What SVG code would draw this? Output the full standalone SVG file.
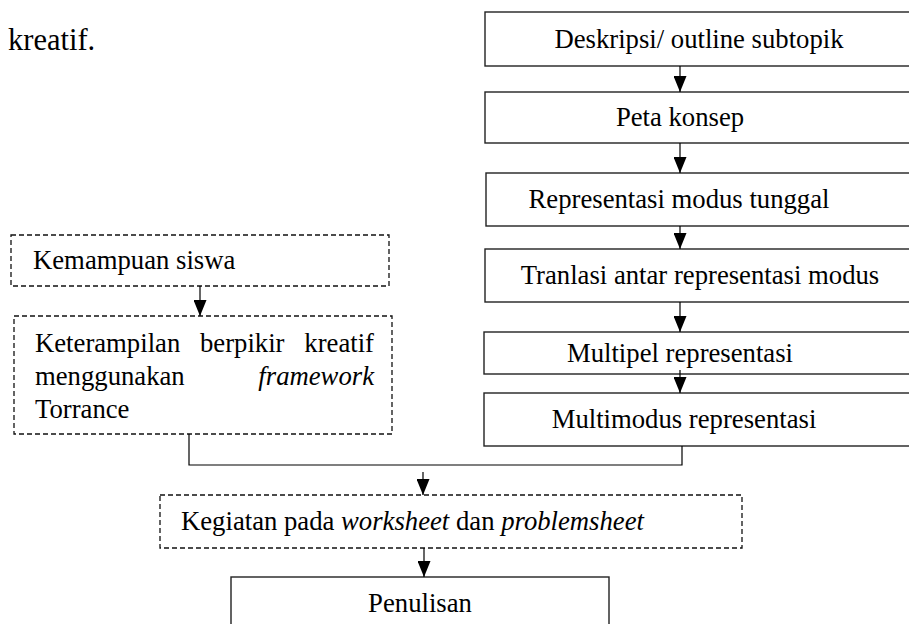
<svg xmlns="http://www.w3.org/2000/svg" width="909" height="624" viewBox="0 0 909 624">
<style>
.t{font-family:'Liberation Serif','Times New Roman','DejaVu Serif',serif;font-size:26.7px;fill:#000}
.s{fill:#fff;stroke:#222;stroke-width:1.4}
.d{fill:#fff;stroke:#111;stroke-width:1.3;stroke-dasharray:5 3}
.c{fill:none;stroke:#000;stroke-width:1.2}
.m{text-anchor:middle}
.e{text-anchor:end}
</style>
<defs>
<marker id="ah" markerWidth="16" markerHeight="13" refX="16" refY="6.5" orient="auto" markerUnits="userSpaceOnUse" viewBox="0 0 16 13">
<path d="M0,0 L16,6.5 L0,13 Z" fill="#000"/>
</marker>
</defs>
<text class="t" x="8" y="50" style="font-size:30.5px">kreatif.</text>
<g id="n1"><rect class="s" x="485" y="12" width="430" height="54"/><text class="t m" x="699" y="48">Deskripsi/ outline subtopik</text></g>
<g id="n2"><rect class="s" x="485" y="92" width="430" height="51"/><text class="t m" x="680" y="126">Peta konsep</text></g>
<g id="n3"><rect class="s" x="486" y="173" width="430" height="53"/><text class="t m" x="679" y="208">Representasi modus tunggal</text></g>
<g id="n4"><rect class="s" x="485" y="249" width="430" height="53"/><text class="t m" x="700" y="284">Tranlasi antar representasi modus</text></g>
<g id="n5"><rect class="s" x="484" y="332" width="430" height="42"/><text class="t m" x="680" y="362">Multipel representasi</text></g>
<g id="n6"><rect class="s" x="484" y="393" width="430" height="53"/><text class="t m" x="684" y="428">Multimodus representasi</text></g>
<g id="n7"><rect class="d" x="11" y="235" width="378" height="51"/><text class="t" x="33" y="269">Kemampuan siswa</text></g>
<g id="n8"><rect class="d" x="14" y="316" width="378" height="118"/>
<text class="t" x="35" y="352">Keterampilan</text>
<text class="t" x="200" y="352">berpikir</text>
<text class="t e" x="374" y="352">kreatif</text>
<text class="t" x="35" y="385">menggunakan</text>
<text class="t e" x="374" y="385" style="font-style:italic">framework</text>
<text class="t" x="35" y="418">Torrance</text></g>
<g id="n9"><rect class="d" x="160" y="495" width="582" height="53"/><text class="t" x="181" y="530">Kegiatan pada <tspan font-style="italic">worksheet</tspan> dan <tspan font-style="italic">problemsheet</tspan></text></g>
<g id="n10"><rect class="s" x="231" y="577" width="378" height="60"/><text class="t m" x="420" y="612">Penulisan</text></g>
<g id="connectors">
<line class="c" x1="680" y1="66" x2="680" y2="92" marker-end="url(#ah)"/>
<line class="c" x1="680" y1="143" x2="680" y2="173" marker-end="url(#ah)"/>
<line class="c" x1="680" y1="226" x2="680" y2="249" marker-end="url(#ah)"/>
<line class="c" x1="680" y1="302" x2="680" y2="332" marker-end="url(#ah)"/>
<line class="c" x1="680" y1="370" x2="680" y2="393" marker-end="url(#ah)"/>
<line class="c" x1="200" y1="286" x2="200" y2="316" marker-end="url(#ah)"/>
<polyline class="c" points="189,434 189,465 682,465 682,446"/>
<line class="c" x1="423" y1="472" x2="423" y2="495" marker-end="url(#ah)"/>
<line class="c" x1="424" y1="548" x2="424" y2="577" marker-end="url(#ah)"/>
</g>
</svg>
